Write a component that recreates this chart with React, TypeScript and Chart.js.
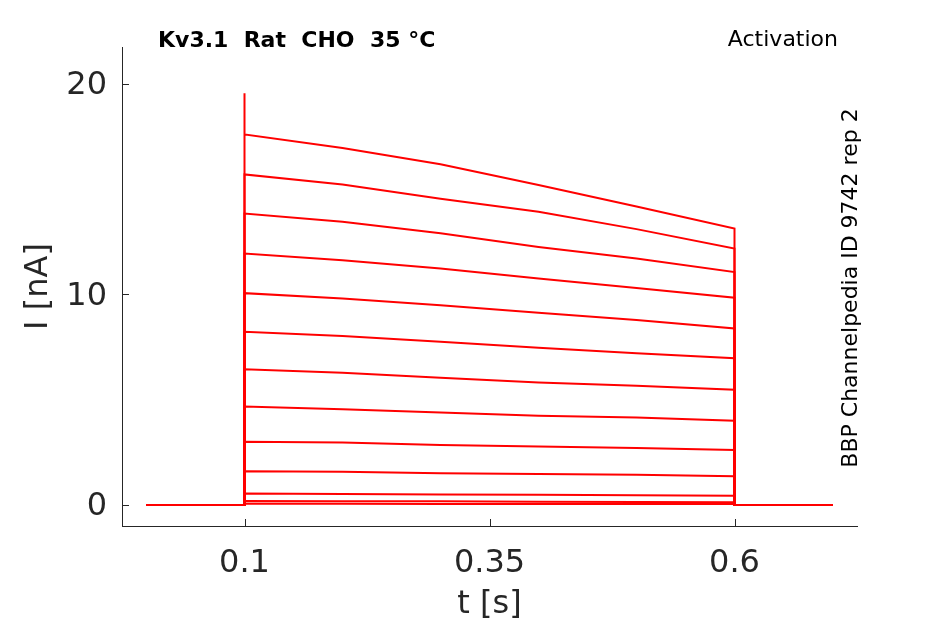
import { useEffect, useRef } from "react";
import { Chart, registerables } from "chart.js";
Chart.register(...registerables);

// voltage-step sweeps, current in nA read at these times (s)
const stepTimes = [0.1, 0.2, 0.3, 0.4, 0.5, 0.6];
const sweep01 = [17.6, 16.95, 16.18, 15.2, 14.17, 13.13];
const sweep02 = [15.7, 15.22, 14.54, 13.92, 13.1, 12.18];
const sweep03 = [13.84, 13.45, 12.9, 12.25, 11.7, 11.06];
const sweep04 = [11.94, 11.62, 11.23, 10.76, 10.3, 9.84];
const sweep05 = [10.06, 9.8, 9.49, 9.13, 8.78, 8.38];
const sweep06 = [8.22, 8.02, 7.75, 7.47, 7.2, 6.97];
const sweep07 = [6.44, 6.28, 6.04, 5.82, 5.66, 5.47];
const sweep08 = [4.68, 4.55, 4.39, 4.24, 4.15, 4.0];
const sweep09 = [3.0, 2.96, 2.85, 2.77, 2.7, 2.61];
const sweep10 = [1.6, 1.58, 1.51, 1.47, 1.43, 1.36];
const sweep11 = [0.54, 0.52, 0.5, 0.48, 0.46, 0.44];
const sweep12 = [0.19, 0.18, 0.17, 0.15, 0.14, 0.13];
const sweep13 = [0.06, 0.06, 0.05, 0.05, 0.05, 0.04];
const sweeps = [sweep01, sweep02, sweep03, sweep04, sweep05, sweep06, sweep07,
  sweep08, sweep09, sweep10, sweep11, sweep12, sweep13];

const peakCurrent = 19.55; // onset spike of the largest sweep
const recordStart = 0;
const recordEnd = 0.7;

const xTicks = [0.1, 0.35, 0.6];
const xTickLabels = ["0.1", "0.35", "0.6"];
const yTicks = [0, 10, 20];
const yTickLabels = ["0", "10", "20"];

const axisColor = "#262626";
const traceColor = "#ff0000";

const sweepPoints = (values: number[], withPeak: boolean) => {
  const pts = [
    { x: recordStart, y: 0 },
    { x: stepTimes[0], y: 0 },
  ];
  if (withPeak) pts.push({ x: stepTimes[0], y: peakCurrent });
  stepTimes.forEach((t, k) => pts.push({ x: t, y: values[k] }));
  pts.push({ x: stepTimes[stepTimes.length - 1], y: 0 });
  pts.push({ x: recordEnd, y: 0 });
  return pts;
};

// matlab style ticks pointing into the plot
const innerTicks = {
  id: "innerTicks",
  beforeDatasetsDraw: (chart: any) => {
    const { ctx, chartArea, scales } = chart;
    ctx.save();
    ctx.strokeStyle = axisColor;
    ctx.lineWidth = 1;
    ctx.beginPath();
    xTicks.forEach((v) => {
      const px = Math.round(scales.x.getPixelForValue(v)) + 0.5;
      ctx.moveTo(px, chartArea.bottom);
      ctx.lineTo(px, chartArea.bottom - 7);
    });
    yTicks.forEach((v) => {
      const py = Math.round(scales.y.getPixelForValue(v)) + 0.5;
      ctx.moveTo(chartArea.left, py);
      ctx.lineTo(chartArea.left + 7, py);
    });
    ctx.stroke();
    ctx.restore();
  },
};

const annotations = {
  id: "annotations",
  afterDraw: (chart: any) => {
    const ctx = chart.ctx;
    ctx.save();
    ctx.fillStyle = "#000";
    ctx.textBaseline = "alphabetic";
    ctx.font = "bold 22px 'DejaVu Sans'";
    ctx.textAlign = "left";
    ctx.fillText("Kv3.1  Rat  CHO  35 °C", 158, 47);
    ctx.font = "22px 'DejaVu Sans'";
    ctx.textAlign = "right";
    ctx.fillText("Activation", 838, 46);
    ctx.textAlign = "center";
    ctx.translate(857, 288);
    ctx.rotate(-Math.PI / 2);
    ctx.fillText("BBP Channelpedia ID 9742 rep 2", 0, 0);
    ctx.restore();
  },
};

const App = () => {
  const canvasRef = useRef<HTMLCanvasElement>(null);

  useEffect(() => {
    const chart = new Chart(canvasRef.current!, {
      type: "line",
      data: {
        datasets: sweeps.map((s, i) => ({
          data: sweepPoints(s, i === 0),
          borderColor: traceColor,
          borderWidth: 2,
          pointRadius: 0,
          tension: 0,
          fill: false,
        })),
      },
      options: {
        responsive: false,
        animation: false,
        layout: { padding: { top: 47, right: 88, left: 0, bottom: 0 } },
        plugins: {
          legend: { display: false },
          tooltip: { enabled: false },
        },
        scales: {
          x: {
            type: "linear",
            min: -0.025,
            max: 0.725,
            afterFit: (scale: any) => {
              scale.height = 98;
            },
            afterBuildTicks: (scale: any) => {
              scale.ticks = xTicks.map((v) => ({ value: v }));
            },
            grid: { display: false, drawTicks: false },
            border: { display: true, color: axisColor, width: 1 },
            ticks: {
              padding: 18,
              color: axisColor,
              font: { family: "DejaVu Sans", size: 32 },
              maxRotation: 0,
              callback: (v: any) => xTickLabels[xTicks.indexOf(Number(v))] ?? "",
            },
            title: {
              display: true,
              text: "t [s]",
              color: axisColor,
              font: { family: "DejaVu Sans", size: 32 },
              padding: { top: 0, bottom: 0 },
            },
          },
          y: {
            min: -1,
            max: 21.75,
            afterFit: (scale: any) => {
              scale.width = 122;
            },
            afterBuildTicks: (scale: any) => {
              scale.ticks = yTicks.map((v) => ({ value: v }));
            },
            grid: { display: false, drawTicks: false },
            border: { display: true, color: axisColor, width: 1 },
            ticks: {
              padding: 15,
              labelOffset: 2,
              color: axisColor,
              font: { family: "DejaVu Sans", size: 32 },
              callback: (v: any) => yTickLabels[yTicks.indexOf(Number(v))] ?? "",
            },
            title: {
              display: true,
              text: "I [nA]",
              color: axisColor,
              font: { family: "DejaVu Sans", size: 32 },
              padding: { top: 19, bottom: 0 },
            },
          },
        },
      },
      plugins: [innerTicks, annotations],
    });
    return () => chart.destroy();
  }, []);

  return (
    <div style={{ position: "absolute", left: 0, top: 0, width: 945, height: 624, background: "#fff" }}>
      <canvas ref={canvasRef} width={945} height={624} style={{ display: "block" }} />
    </div>
  );
};

export default App;
